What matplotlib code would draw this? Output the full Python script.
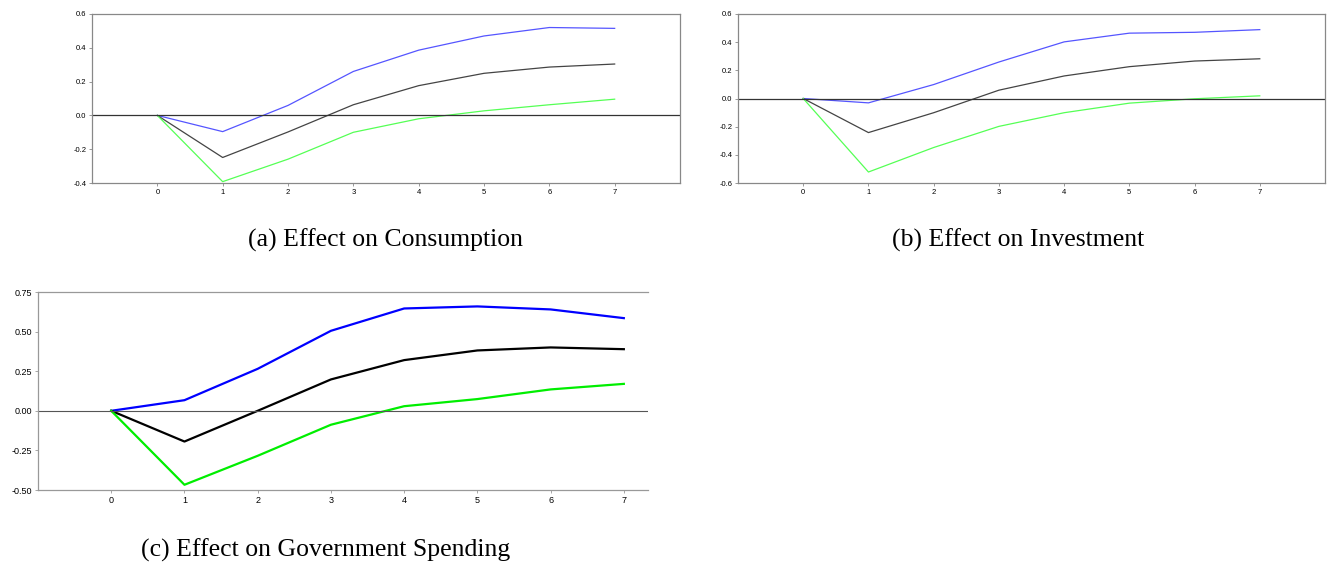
import matplotlib
matplotlib.use('Agg')
import matplotlib.pyplot as plt

plt.rcParams['font.family'] = ['Liberation Sans', 'DejaVu Sans']

horizon = [0, 1, 2, 3, 4, 5, 6, 7]

# impulse responses: upper band, point estimate, lower band
cons_upper = [0.0, -0.096, 0.059, 0.26, 0.386, 0.47, 0.52, 0.515]
cons_mid = [0.0, -0.249, -0.098, 0.063, 0.176, 0.249, 0.286, 0.304]
cons_lower = [0.0, -0.392, -0.259, -0.10, -0.02, 0.027, 0.063, 0.096]

inv_upper = [0.0, -0.031, 0.099, 0.259, 0.402, 0.464, 0.47, 0.489]
inv_mid = [0.0, -0.242, -0.101, 0.059, 0.16, 0.226, 0.266, 0.282]
inv_lower = [0.0, -0.522, -0.348, -0.198, -0.101, -0.033, -0.002, 0.019]

gov_upper = [0.0, 0.067, 0.265, 0.505, 0.646, 0.659, 0.64, 0.585]
gov_mid = [0.0, -0.194, 0.0, 0.198, 0.32, 0.381, 0.40, 0.389]
gov_lower = [0.0, -0.467, -0.284, -0.088, 0.029, 0.074, 0.135, 0.17]

W, H = 1328, 569
fig = plt.figure(figsize=(W / 100, H / 100), dpi=100)


def px_axes(x0, y0, x1, y1):
    return fig.add_axes([x0 / W, 1 - y1 / H, (x1 - x0) / W, (y1 - y0) / H])


def small_panel(ax, up, mid, lo, ylim, yticks):
    ax.plot(horizon, up, color='#5555ff', lw=0.9)
    ax.plot(horizon, mid, color='#444444', lw=0.9)
    ax.plot(horizon, lo, color='#55ff55', lw=0.9)
    ax.axhline(0, color='#333333', lw=0.9)
    ax.set_xlim(-1, 8)
    ax.set_ylim(*ylim)
    ax.set_xticks(horizon)
    ax.set_yticks(yticks)
    ax.set_yticklabels([f'{v:.1f}' for v in yticks])
    for s in ax.spines.values():
        s.set_color('#888888')
        s.set_linewidth(0.9)
    ax.tick_params(labelsize=5.5, length=2, width=0.6, color='#888888', pad=2)


ax1 = px_axes(92, 14, 680, 183)
small_panel(ax1, cons_upper, cons_mid, cons_lower, (-0.4, 0.6),
            [-0.4, -0.2, 0.0, 0.2, 0.4, 0.6])

ax2 = px_axes(738, 14, 1325, 183)
small_panel(ax2, inv_upper, inv_mid, inv_lower, (-0.6, 0.6),
            [-0.6, -0.4, -0.2, 0.0, 0.2, 0.4, 0.6])

ax3 = px_axes(38, 292, 648, 490)
ax3.plot(horizon, gov_upper, color='#0000ff', lw=1.6)
ax3.plot(horizon, gov_mid, color='black', lw=1.6)
ax3.plot(horizon, gov_lower, color='#00ee00', lw=1.6)
ax3.axhline(0, color='#555555', lw=0.8)
ax3.set_xlim(-1, 7.33)
ax3.set_ylim(-0.5, 0.75)
ax3.set_xticks(horizon)
ax3.set_yticks([-0.5, -0.25, 0.0, 0.25, 0.5, 0.75])
ax3.set_yticklabels(['-0.50', '-0.25', '0.00', '0.25', '0.50', '0.75'])
ax3.spines['right'].set_visible(False)
for s in ('left', 'top', 'bottom'):
    ax3.spines[s].set_color('#999999')
    ax3.spines[s].set_linewidth(0.9)
ax3.tick_params(labelsize=6.5, length=2.5, width=0.6, color='#999999', pad=2)

cap = dict(ha='center', va='center', fontsize=18.5, family=['Liberation Serif', 'DejaVu Serif'])
fig.text(386 / W, 1 - 240 / H, '(a) Effect on Consumption', **cap)
fig.text(1018 / W, 1 - 240 / H, '(b) Effect on Investment', **cap)
fig.text(326 / W, 1 - 550 / H, '(c) Effect on Government Spending', **cap)

fig.savefig('out.png', dpi=100)
